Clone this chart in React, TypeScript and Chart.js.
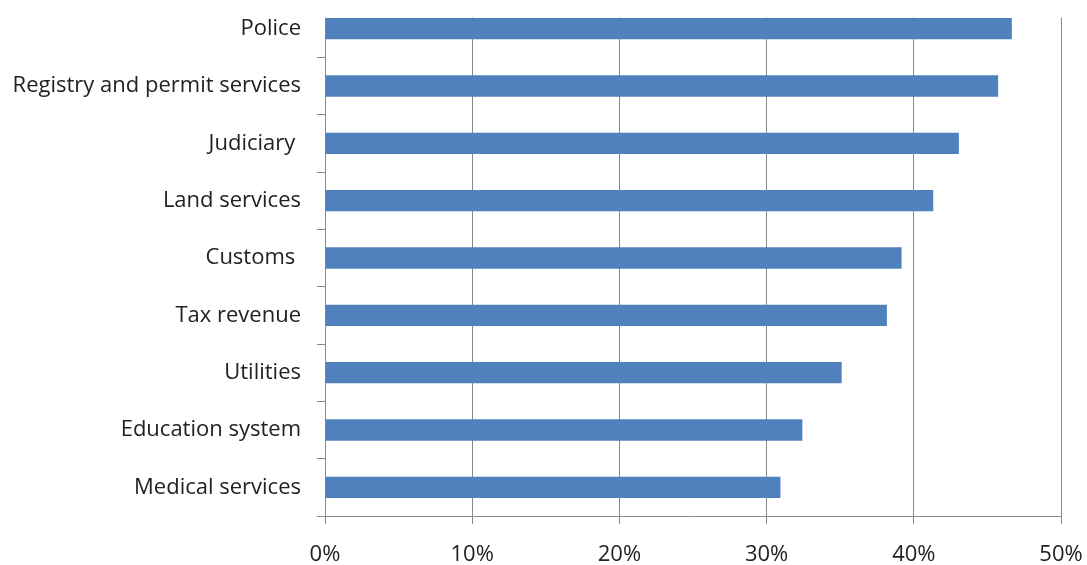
import React, { useEffect, useRef } from "react";
import { Chart, registerables } from "chart.js";

Chart.register(...registerables);

const categories = [
  "Police",
  "Registry and permit services",
  "Judiciary ",
  "Land services",
  "Customs ",
  "Tax revenue",
  "Utilities",
  "Education system",
  "Medical services",
];
const values = [46.66, 45.73, 43.06, 41.32, 39.17, 38.17, 35.1, 32.43, 30.94];
const xTicks = [0, 10, 20, 30, 40, 50];

const FONT = "'Open Sans', sans-serif";

const topClip = {
  id: "topClip",
  beforeDatasetsDraw(chart: any) {
    const meta = chart.getDatasetMeta(0);
    const el = meta.data[0];
    if (!el) return;
    const top = el.y - el.height / 2;
    const { ctx, chartArea } = chart;
    ctx.save();
    ctx.fillStyle = "#ffffff";
    ctx.fillRect(chartArea.left - 20, 0, chartArea.right - chartArea.left + 40, top - 0.5);
    ctx.restore();
  },
};

export default function App() {
  const ref = useRef<HTMLCanvasElement | null>(null);
  useEffect(() => {
    document.body.style.margin = "0";
    const chart = new Chart(ref.current!, {
      type: "bar",
      data: {
        labels: categories,
        datasets: [
          {
            data: values,
            backgroundColor: "#4F81BD",
            borderWidth: 0,
            barPercentage: 0.372,
            categoryPercentage: 1,
          },
        ],
      },
      options: {
        indexAxis: "y",
        animation: false,
        responsive: false,
        maintainAspectRatio: false,
        layout: { padding: { top: 0, left: 0, bottom: 0, right: 26 } },
        plugins: { legend: { display: false }, tooltip: { enabled: false } },
        scales: {
          x: {
            min: 0,
            max: 50,
            afterBuildTicks: (s: any) => {
              s.ticks = xTicks.map((v) => ({ value: v }));
            },
            afterFit: (s: any) => {
              s.height = 49;
              s.paddingLeft = 0;
              s.paddingRight = 0;
            },
            ticks: {
              callback: (v: any) => v + "%",
              color: "#222222",
              font: { family: FONT, size: 22 },
              padding: 18,
              maxRotation: 0,
            },
            grid: {
              color: "#8a8a8a",
              lineWidth: 1,
              tickLength: 8,
              drawTicks: true,
            },
            border: { display: true, color: "#8a8a8a", width: 1 },
          },
          y: {
            afterFit: (s: any) => {
              s.width = 325;
              s.paddingTop = 0;
              s.paddingBottom = 0;
            },
            ticks: {
              color: "#222222",
              font: { family: FONT, size: 22 },
              padding: 16,
            },
            grid: {
              drawOnChartArea: false,
              drawTicks: true,
              tickLength: 8,
              color: "#8a8a8a",
              offset: true,
            },
            border: { display: true, color: "#8a8a8a", width: 1 },
          },
        },
      },
      plugins: [topClip],
    });
    return () => chart.destroy();
  }, []);
  return (
    <div style={{ width: 1087, height: 565 }}>
      <canvas ref={ref} width={1087} height={565} style={{ width: 1087, height: 565, display: "block" }} />
    </div>
  );
}
